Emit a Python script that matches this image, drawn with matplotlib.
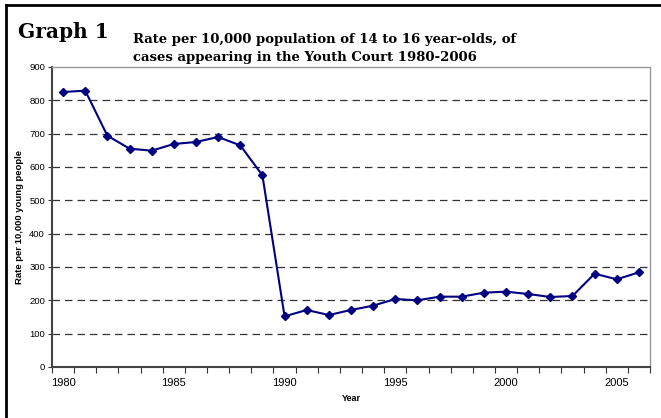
import matplotlib.pyplot as plt
import matplotlib.lines as mlines
import numpy as np

years = list(range(1980, 2007))
rates = [825, 829, 694, 655, 649, 669, 675, 690, 665, 575,
         152, 171, 156, 171, 184, 204, 200, 211, 211, 223,
         226, 219, 210, 213, 280, 263, 284]
y_ticks = list(range(0, 1000, 100))

fig = plt.figure(figsize=(6.61, 4.18), dpi=100)
ax = fig.add_axes([52/661, 51/418, 598/661, 300/418])

x = np.arange(len(years))
ax.plot(x, rates, color='#000080', lw=1.5, marker='D', ms=4, mec='#000080', mfc='#000080')

ax.set_xlim(-0.5, len(years) - 0.5)
ax.set_ylim(0, 900)
ax.set_yticks(y_ticks)
ax.set_yticklabels([str(v) for v in y_ticks], fontsize=6.8, family='Liberation Sans')

# year tick marks between categories, labels every 5 years
ax.set_xticks(np.arange(-0.5, len(years), 1))
ax.set_xticklabels([])
lab_pos = [i for i, yr in enumerate(years) if yr % 5 == 0]
ax.set_xticks(lab_pos, minor=True)
ax.set_xticklabels([str(years[i]) for i in lab_pos], minor=True, fontsize=8, family='Liberation Sans')
ax.tick_params(axis='x', which='major', direction='out', length=4, width=0.8, color='#333333')
ax.tick_params(axis='x', which='minor', length=0, pad=8)
ax.tick_params(axis='y', direction='out', length=3, width=0.8, color='#333333', pad=2)

for v in y_ticks[1:-1]:
    ax.axhline(v, color='#333333', lw=0.9, ls=(0, (6, 4)), zorder=0)

for s in ['left', 'bottom']:
    ax.spines[s].set_color('#444444')
    ax.spines[s].set_linewidth(1.5)
for s in ['top', 'right']:
    ax.spines[s].set_color('#999999')
    ax.spines[s].set_linewidth(1.0)

ax.set_xlabel('Year', fontsize=6.5, fontweight='bold', family='Liberation Sans', labelpad=4)
ax.set_ylabel('Rate per 10,000 young people', fontsize=6.8, fontweight='bold',
              family='Liberation Sans', labelpad=4)

fig.text(18/661, 1 - 32/418, 'Graph 1', fontsize=14.5, fontweight='bold',
         family='DejaVu Serif', va='center', ha='left')
fig.text(133/661, 1 - 39/418, 'Rate per 10,000 population of 14 to 16 year-olds, of',
         fontsize=9.5, fontweight='bold', family='DejaVu Serif', va='center', ha='left')
fig.text(133/661, 1 - 58/418, 'cases appearing in the Youth Court 1980-2006',
         fontsize=9.5, fontweight='bold', family='DejaVu Serif', va='center', ha='left')

# outer frame (left and top edges)
fig.add_artist(mlines.Line2D([6/661, 6/661], [0, 1 - 5/418], color='black', lw=2, transform=fig.transFigure))
fig.add_artist(mlines.Line2D([6/661, 1], [1 - 5/418, 1 - 5/418], color='black', lw=2, transform=fig.transFigure))

fig.savefig('out.png', dpi=100)
